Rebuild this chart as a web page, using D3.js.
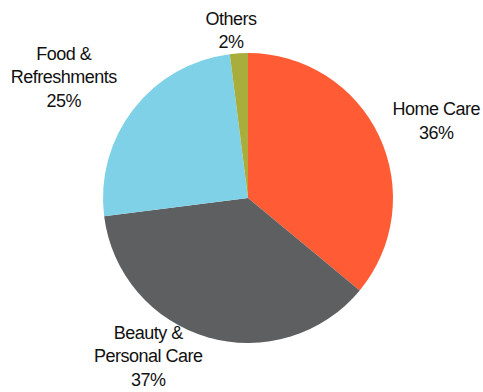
<!DOCTYPE html>
<html>
<head>
<meta charset="utf-8">
<script src="https://cdn.jsdelivr.net/npm/d3@7"></script>
<style>
  body { margin: 0; background: #fff; }
  text { font-family: "Liberation Sans", Arial, sans-serif; font-size: 18px; letter-spacing: -0.5px; fill: #111; }
</style>
</head>
<body>
<div id="chart"></div>
<script>
// data
const categories = ["Home Care", "Beauty & Personal Care", "Food & Refreshments", "Others"];
const shares = [36, 37, 25, 2];
const labelLines = [["Home Care"], ["Beauty &", "Personal Care"], ["Food &", "Refreshments"], ["Others"]];
const colorList = ["#FF5C35", "#5E5F61", "#7ED1E6", "#A8AD3B"];

const w = 483, h = 392;
const cx = 248, cy = 198, r = 145;
const lineH = 23.5;
// nudge from the label arc (layout only)
const nudge = [[30, -3], [-51, -10], [-46, -14], [-6, 7]];

const svg = d3.select("#chart").append("svg")
  .attr("width", w)
  .attr("height", h);

const g = svg.append("g").attr("transform", `translate(${cx},${cy})`);

const pie = d3.pie().sort(null).value(d => d);
const arcs = pie(shares);

const arc = d3.arc().innerRadius(0).outerRadius(r);
const labelArc = d3.arc().innerRadius(175).outerRadius(175);

const color = d3.scaleOrdinal().domain(categories).range(colorList);

g.selectAll("path")
  .data(arcs)
  .enter()
  .append("path")
  .attr("d", arc)
  .attr("fill", (d, i) => color(categories[i]));

// labels
const labels = g.selectAll("text.lbl")
  .data(arcs)
  .enter()
  .append("text")
  .attr("class", "lbl")
  .attr("text-anchor", "middle")
  .attr("transform", (d, i) => {
    const c = labelArc.centroid(d);
    return `translate(${c[0] + nudge[i][0]},${c[1] + nudge[i][1]})`;
  });

labels.each(function(d, i) {
  const lines = labelLines[i].concat([d.data + "%"]);
  const t = d3.select(this);
  const start = -(lines.length - 1) * lineH / 2;
  lines.forEach((ln, k) => {
    t.append("tspan")
      .attr("x", 0)
      .attr("y", start + k * lineH)
      .attr("dy", "0.35em")
      .text(ln);
  });
});
</script>
</body>
</html>
